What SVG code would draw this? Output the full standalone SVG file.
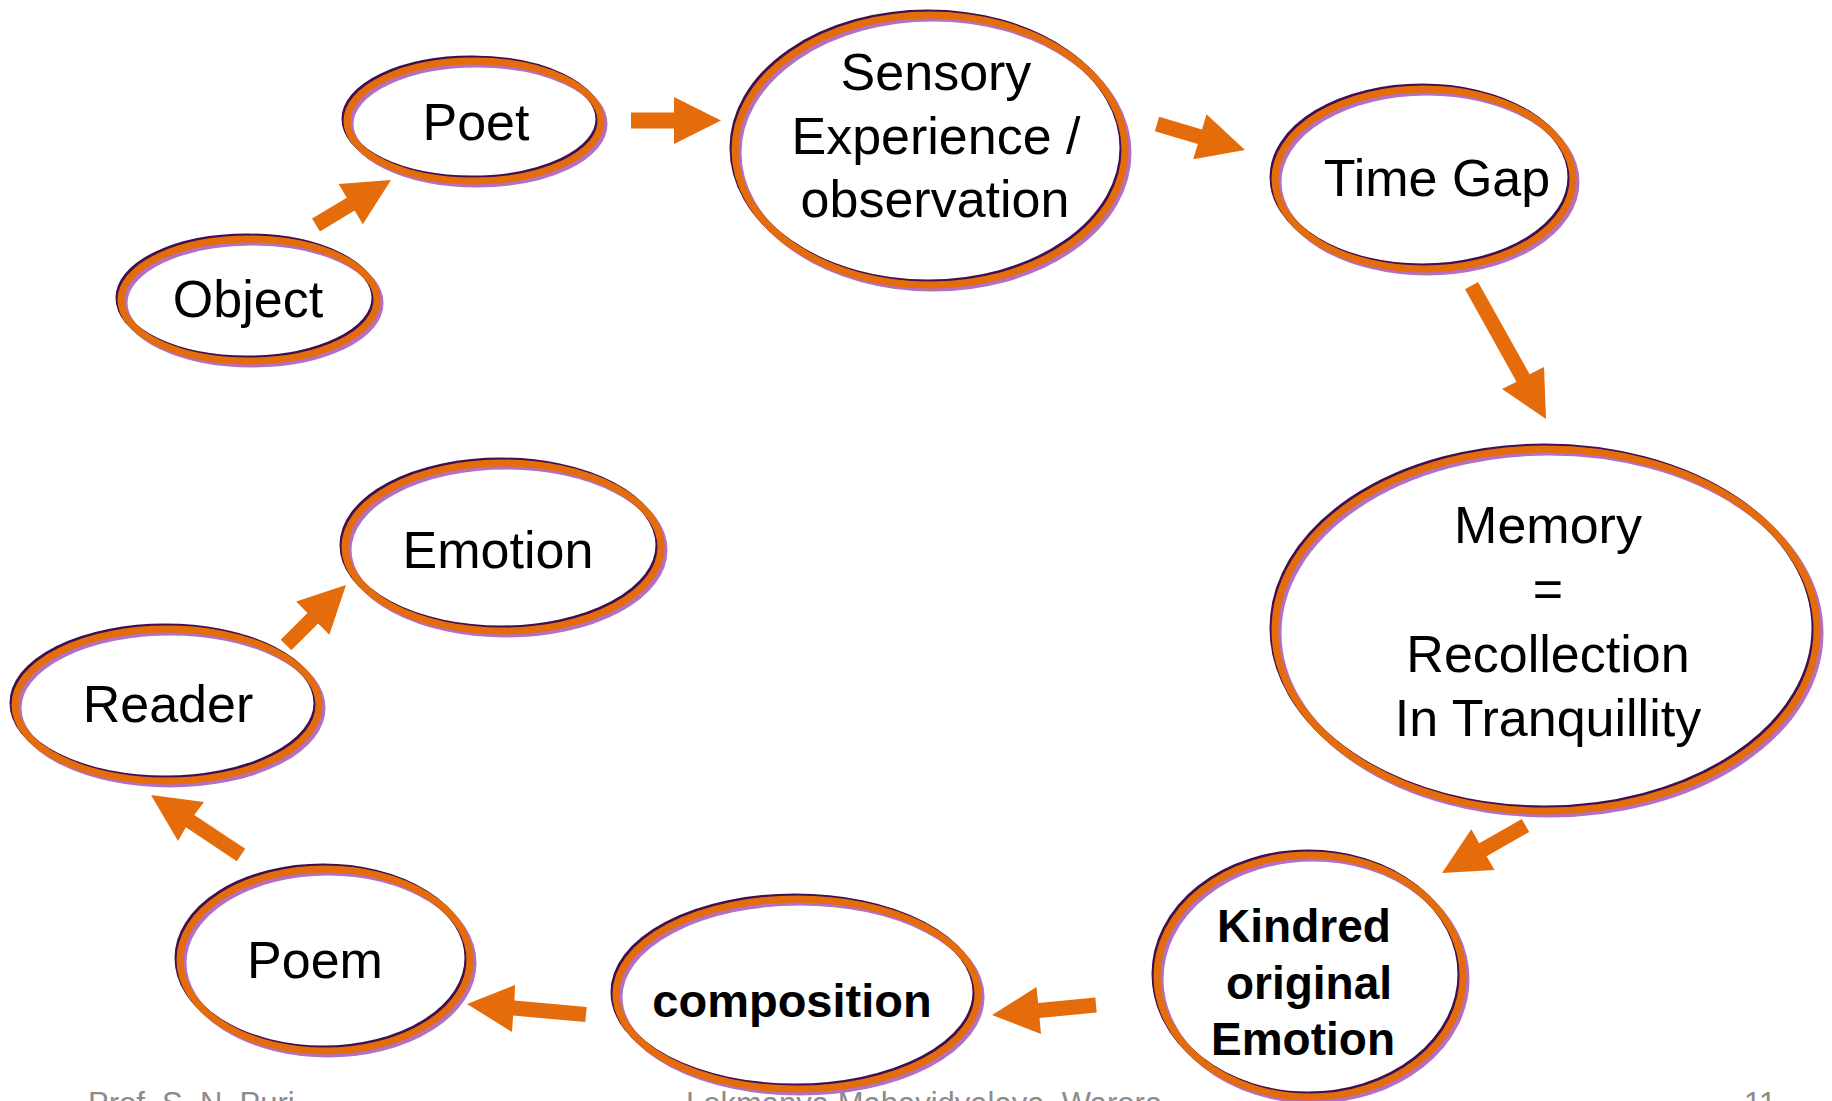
<svg xmlns="http://www.w3.org/2000/svg" width="1832" height="1101" viewBox="0 0 1832 1101">
<style>
.bg{fill:#ffffff}
.fill{fill:#ffffff;stroke:none}
.sh{fill:none;stroke:#B36FC0;stroke-width:7}
.dk{fill:none;stroke:#3F0F4F;stroke-width:7}
.mn{fill:none;stroke:#E46C0A;stroke-width:7}
.t{font-family:"Liberation Sans",Arial,sans-serif;font-size:52px;fill:#000;text-anchor:middle}
.b{font-family:"Liberation Sans",Arial,sans-serif;font-size:46px;font-weight:bold;fill:#000;text-anchor:middle}
.ar{fill:#E46C0A;stroke:none}
.ft{font-family:"Liberation Sans",Arial,sans-serif;font-size:31px;fill:#8C8C8C}
</style>
<rect class="bg" x="0" y="0" width="1832" height="1101"/>

<g id="connectors">
<polygon class="ar" points="319.9,231.4 354.6,210.6 362.8,224.3 391,180 338.6,184.1 346.8,197.8 312.1,218.6"/>
<polygon class="ar" points="631,128.5 674,128.5 674,144 721,120.5 674,97 674,112.5 631,112.5"/>
<polygon class="ar" points="1154.9,131.2 1197.8,143.9 1193.2,159.2 1245,150 1206.5,114.2 1202,129.5 1159.1,116.8"/>
<polygon class="ar" points="1465,289.2 1516.5,381.7 1502,389 1546,419 1544,367 1529.6,374.3 1478,281.9"/>
<polygon class="ar" points="1521.8,819 1479.2,843.2 1471.3,829.3 1442,873 1494.5,870.1 1486.6,856.2 1529.2,832"/>
<polygon class="ar" points="1095.3,997.5 1038.1,1003 1036.5,987.1 992,1015 1041,1033.9 1039.5,1018 1096.7,1012.5"/>
<polygon class="ar" points="586.7,1007 514.5,1000.6 515,985 467,1004 512,1032 513.1,1015.6 585.3,1022"/>
<polygon class="ar" points="245.2,848.8 194.3,814.9 204,802 151,795 178,841 185.9,827.3 236.8,861.2"/>
<polygon class="ar" points="291.3,650.3 318.1,623.5 329.4,634.8 346,585 296.2,601.6 307.5,612.9 280.7,639.7"/>
</g>

<g id="node-object">
<ellipse class="fill" cx="249" cy="300" rx="128" ry="61"/>
<ellipse class="sh" cx="252" cy="303" rx="128" ry="61"/>
<ellipse class="dk" cx="247" cy="298" rx="128" ry="61"/>
<ellipse class="mn" cx="249" cy="300" rx="128" ry="61"/>
<text class="t" x="248" y="317">Object</text>
</g>

<g id="node-poet">
<ellipse class="fill" cx="474" cy="121" rx="127" ry="60"/>
<ellipse class="sh" cx="477" cy="124" rx="127" ry="60"/>
<ellipse class="dk" cx="472" cy="119" rx="127" ry="60"/>
<ellipse class="mn" cx="474" cy="121" rx="127" ry="60"/>
<text class="t" x="476" y="140">Poet</text>
</g>

<g id="node-sensory">
<ellipse class="fill" cx="930" cy="150" rx="195" ry="135"/>
<ellipse class="sh" cx="933" cy="153" rx="195" ry="135"/>
<ellipse class="dk" cx="928" cy="148" rx="195" ry="135"/>
<ellipse class="mn" cx="930" cy="150" rx="195" ry="135"/>
<text class="t" x="936" y="90">Sensory</text>
<text class="t" x="936" y="154">Experience /</text>
<text class="t" x="935" y="217">observation</text>
</g>

<g id="node-timegap">
<ellipse class="fill" cx="1424" cy="179" rx="149" ry="90"/>
<ellipse class="sh" cx="1427" cy="182" rx="149" ry="90"/>
<ellipse class="dk" cx="1422" cy="177" rx="149" ry="90"/>
<ellipse class="mn" cx="1424" cy="179" rx="149" ry="90"/>
<text class="t" x="1437" y="196">Time Gap</text>
</g>

<g id="node-memory">
<ellipse class="fill" cx="1546" cy="630" rx="271" ry="181"/>
<ellipse class="sh" cx="1549" cy="633" rx="271" ry="181"/>
<ellipse class="dk" cx="1544" cy="628" rx="271" ry="181"/>
<ellipse class="mn" cx="1546" cy="630" rx="271" ry="181"/>
<text class="t" x="1548" y="543">Memory</text>
<text class="t" x="1548" y="607">=</text>
<text class="t" x="1548" y="672">Recollection</text>
<text class="t" x="1548" y="736">In Tranquillity</text>
</g>

<g id="node-kindred">
<ellipse class="fill" cx="1310" cy="976" rx="153" ry="121"/>
<ellipse class="sh" cx="1313" cy="979" rx="153" ry="121"/>
<ellipse class="dk" cx="1308" cy="974" rx="153" ry="121"/>
<ellipse class="mn" cx="1310" cy="976" rx="153" ry="121"/>
<text class="b" x="1304" y="942">Kindred</text>
<text class="b" x="1309" y="999">original</text>
<text class="b" x="1303" y="1055">Emotion</text>
</g>

<g id="node-composition">
<ellipse class="fill" cx="797" cy="994" rx="181" ry="95"/>
<ellipse class="sh" cx="800" cy="997" rx="181" ry="95"/>
<ellipse class="dk" cx="795" cy="992" rx="181" ry="95"/>
<ellipse class="mn" cx="797" cy="994" rx="181" ry="95"/>
<text class="b" x="792" y="1017" style="font-size:47px">composition</text>
</g>

<g id="node-poem">
<ellipse class="fill" cx="325" cy="960" rx="145" ry="91"/>
<ellipse class="sh" cx="328" cy="963" rx="145" ry="91"/>
<ellipse class="dk" cx="323" cy="958" rx="145" ry="91"/>
<ellipse class="mn" cx="325" cy="960" rx="145" ry="91"/>
<text class="t" x="315" y="978">Poem</text>
</g>

<g id="node-reader">
<ellipse class="fill" cx="167" cy="705" rx="152" ry="76"/>
<ellipse class="sh" cx="170" cy="708" rx="152" ry="76"/>
<ellipse class="dk" cx="165" cy="703" rx="152" ry="76"/>
<ellipse class="mn" cx="167" cy="705" rx="152" ry="76"/>
<text class="t" x="168" y="722">Reader</text>
</g>

<g id="node-emotion">
<ellipse class="fill" cx="503" cy="547" rx="158" ry="84"/>
<ellipse class="sh" cx="506" cy="550" rx="158" ry="84"/>
<ellipse class="dk" cx="501" cy="545" rx="158" ry="84"/>
<ellipse class="mn" cx="503" cy="547" rx="158" ry="84"/>
<text class="t" x="498" y="568">Emotion</text>
</g>

<g id="footer">
<text class="ft" x="88" y="1114">Prof. S. N. Puri</text>
<text class="ft" x="686" y="1114">Lokmanya Mahavidyalaya, Warora</text>
<text class="ft" x="1744" y="1114">11</text>
</g>
</svg>
